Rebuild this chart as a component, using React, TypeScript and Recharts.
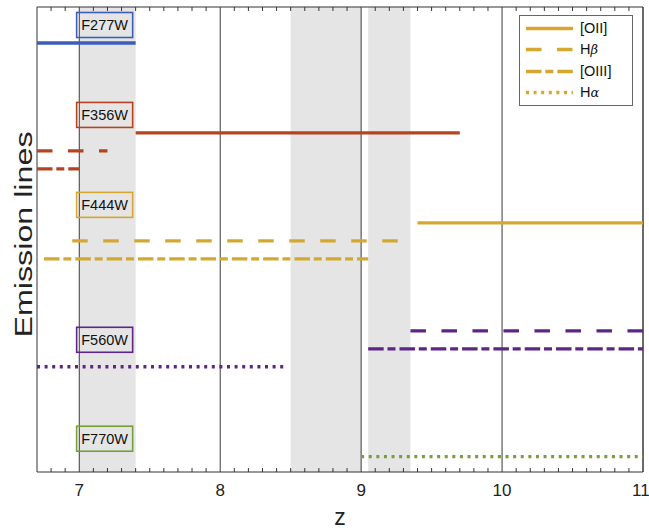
import React from 'react';
import { ComposedChart, Line, XAxis, YAxis, ReferenceArea, ReferenceLine, ReferenceDot } from 'recharts';

const FONT = '"Liberation Sans", Arial, Helvetica, sans-serif';

// axis
const Z_DOMAIN: [number, number] = [6.7, 11];
const Z_TICKS = [7, 8, 9, 10, 11];
const MINOR_TICKS = Array.from({ length: 43 }, (_, i) => Math.round(68 + i) / 10).filter((v) => !Number.isInteger(v));
const LEVEL_MAX = 25.85;

// gray redshift bands
const SHADED_BANDS = [
  [7.0, 7.4],
  [8.5, 9.0],
  [9.05, 9.35],
];

const FILTERS = ['F277W', 'F356W', 'F444W', 'F560W', 'F770W'];
const FILTER_COLORS = ['#3c5dba', '#b4441f', '#d6a72f', '#5d2584', '#73a03a'];
const FILTER_LABEL_LEVEL = [1, 6, 11, 18.5, 24];
const LABEL_Z = 7.18;

const EMISSION_LINES = ['[OII]', 'Hβ', '[OIII]', 'Hα'];
const LINE_DASHES = [undefined, '15.5 15.5', '15.5 3.8 8 4', '3 4.6'];

// line index, z from, z to, level
const F277W_LINES = [{ line: 0, from: 6.7, to: 7.4, level: 2 }];
const F356W_LINES = [
  { line: 0, from: 7.4, to: 9.7, level: 7 },
  { line: 1, from: 6.7, to: 7.2, level: 8 },
  { line: 2, from: 6.7, to: 7.0, level: 9 },
];
const F444W_LINES = [
  { line: 0, from: 9.4, to: 11, level: 12 },
  { line: 1, from: 6.95, to: 9.33, level: 13 },
  { line: 2, from: 6.75, to: 9.05, level: 14 },
];
const F560W_LINES = [
  { line: 1, from: 9.35, to: 11, level: 18 },
  { line: 2, from: 9.05, to: 11, level: 19 },
  { line: 3, from: 6.7, to: 8.45, level: 20 },
];
const F770W_LINES = [{ line: 3, from: 9.0, to: 11, level: 25 }];

const FILTER_LINES = [F277W_LINES, F356W_LINES, F444W_LINES, F560W_LINES, F770W_LINES];

const renderName = (name: string) => {
  const greek = name.match(/[α-ω]/);
  if (!greek) return name;
  return (
    <>
      {name.slice(0, greek.index)}
      <span style={{ fontStyle: 'italic', fontFamily: '"DejaVu Serif", serif', fontSize: 13 }}>{greek[0]}</span>
    </>
  );
};

const YLabel = ({ viewBox }: any) => {
  const x = viewBox.x + 32;
  const y = viewBox.y + viewBox.height / 2 - 5;
  return (
    <text
      x={x}
      y={y}
      transform={`rotate(-90 ${x} ${y})`}
      textAnchor="middle"
      fontSize={23}
      fontFamily={FONT}
      fill="#222"
      textLength={206}
      lengthAdjust="spacingAndGlyphs"
    >
      Emission lines
    </text>
  );
};

const FilterTag = (name: string, color: string) => (props: any) => {
  const { cx, cy } = props;
  return (
    <g>
      <rect x={cx - 28} y={cy - 12.5} width={56} height={25} fill="none" stroke={color} strokeWidth={1.6} />
      <text x={cx} y={cy + 5} textAnchor="middle" fontSize={14.5} fontFamily={FONT} fill="#111">
        {name}
      </text>
    </g>
  );
};

const Legend = () => (
  <div
    style={{
      position: 'absolute',
      left: 519,
      top: 15,
      width: 114,
      height: 91,
      border: '1px solid #666',
      background: '#fff',
      boxSizing: 'border-box',
      fontFamily: FONT,
      fontSize: 14.5,
      color: '#111',
    }}
  >
    {EMISSION_LINES.map((name, i) => (
      <div key={name} style={{ position: 'absolute', left: 0, top: 2 + i * 21.3, height: 21, width: '100%' }}>
        <svg width={48} height={21} style={{ position: 'absolute', left: 6, top: 0 }}>
          <line x1={0} x2={47} y1={10.5} y2={10.5} stroke={FILTER_COLORS[2]} strokeWidth={3.3} strokeDasharray={LINE_DASHES[i]} />
        </svg>
        <span style={{ position: 'absolute', left: 60, top: 2, lineHeight: '17px' }}>{renderName(name)}</span>
      </div>
    ))}
  </div>
);

export default function App() {
  return (
    <div style={{ position: 'relative', width: 649, height: 531, background: '#fff' }}>
      <style>{'body{margin:0}'}</style>
      <ComposedChart width={649} height={531} margin={{ top: 7, right: 6, bottom: 0, left: 0 }}>
        <XAxis
          type="number"
          dataKey="z"
          domain={Z_DOMAIN}
          allowDataOverflow
          ticks={Z_TICKS}
          height={59}
          axisLine={false}
          tickLine={false}
          tickSize={0}
          tickMargin={12}
          tick={{ fontSize: 17, fill: '#222', fontFamily: FONT }}
          label={{ value: 'z', position: 'insideBottom', offset: 6, fontSize: 23, fill: '#222', fontFamily: FONT }}
        />
        <YAxis
          type="number"
          domain={[0, LEVEL_MAX]}
          reversed
          allowDataOverflow
          width={37}
          tick={false}
          axisLine={false}
          tickLine={false}
          label={<YLabel />}
        />
        {SHADED_BANDS.map(([a, b]) => (
          <ReferenceArea key={`band-${a}`} x1={a} x2={b} y1={0} y2={LEVEL_MAX} fill="#e5e5e5" fillOpacity={1} stroke="none" />
        ))}
        {Z_TICKS.map((z) => (
          <ReferenceLine key={`grid-${z}`} x={z} stroke="#3a3a3a" strokeWidth={1} />
        ))}
        {MINOR_TICKS.map((z) => (
          <ReferenceLine key={`tb-${z}`} segment={[{ x: z, y: LEVEL_MAX }, { x: z, y: LEVEL_MAX - 0.22 }]} stroke="#333" strokeWidth={1} />
        ))}
        {MINOR_TICKS.map((z) => (
          <ReferenceLine key={`tt-${z}`} segment={[{ x: z, y: 0 }, { x: z, y: 0.22 }]} stroke="#333" strokeWidth={1} />
        ))}
        {FILTER_LINES.map((segs, f) =>
          segs.map((s) => (
            <Line
              key={`${FILTERS[f]}-${s.line}`}
              data={[
                { z: s.from, y: s.level },
                { z: s.to, y: s.level },
              ]}
              dataKey="y"
              stroke={FILTER_COLORS[f]}
              strokeWidth={3.3}
              strokeDasharray={LINE_DASHES[s.line]}
              dot={false}
              activeDot={false}
              isAnimationActive={false}
            />
          ))
        )}
        {FILTERS.map((name, f) => (
          <ReferenceDot key={name} x={LABEL_Z} y={FILTER_LABEL_LEVEL[f]} r={1} shape={FilterTag(name, FILTER_COLORS[f])} />
        ))}
        <ReferenceArea x1={Z_DOMAIN[0]} x2={Z_DOMAIN[1]} y1={0} y2={LEVEL_MAX} fill="none" stroke="#333" strokeWidth={1} />
      </ComposedChart>
      <Legend />
    </div>
  );
}
